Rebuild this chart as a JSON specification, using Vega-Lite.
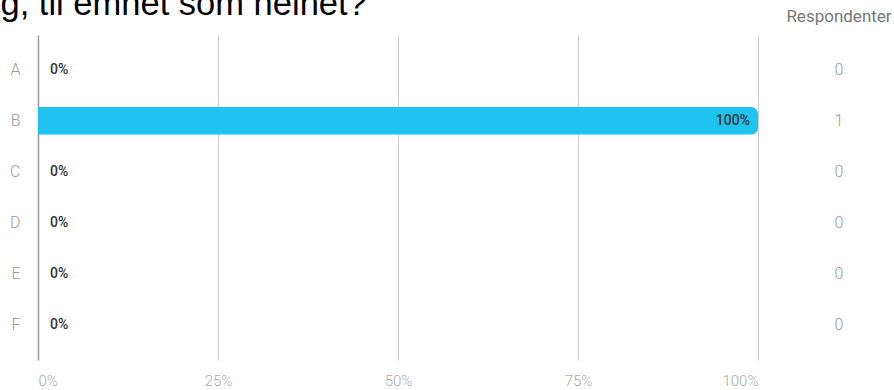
{
  "$schema": "https://vega.github.io/schema/vega-lite/v6.json",
  "padding": {"left": 0, "top": -14, "right": 0, "bottom": 0},
  "background": "white",
  "config": {"view": {"stroke": null}, "font": "Roboto", "concat": {"spacing": 28}},
  "title": {"text": "g, til emnet som helhet?", "anchor": "start", "font": "Liberation Sans", "fontSize": 34.5, "fontWeight": "normal", "color": "#000", "offset": -14, "dx": -9},
  "data": {"values": [
    {"svar": "A", "andel": 0, "antall": 0},
    {"svar": "B", "andel": 1, "antall": 1},
    {"svar": "C", "andel": 0, "antall": 0},
    {"svar": "D", "andel": 0, "antall": 0},
    {"svar": "E", "andel": 0, "antall": 0},
    {"svar": "F", "andel": 0, "antall": 0}
  ]},
  "hconcat": [
    {
      "width": 720,
      "height": 325,
      "encoding": {
        "y": {"field": "svar", "type": "nominal", "sort": ["A","B","C","D","E","F"],
              "scale": {"type": "band", "paddingInner": 0.455, "paddingOuter": 0.41},
              "axis": {"title": null, "domain": false, "ticks": false, "labelPadding": 18, "labelColor": "#999", "labelFontSize": 16, "labelFontWeight": 300, "labelFont": "Roboto"}}
      },
      "layer": [
        {
          "mark": {"type": "bar", "color": "#1EC3F0", "cornerRadiusEnd": 7},
          "encoding": {
            "x": {"field": "andel", "type": "quantitative", "scale": {"domain": [0, 1]},
                  "axis": {"title": null, "values": [0, 0.25, 0.5, 0.75, 1], "format": ".0%", "domain": false, "ticks": false,
                           "labelColor": "#aaa", "labelFontSize": 15, "labelFontWeight": 300, "labelPadding": 13, "labelFlush": true,
                           "gridColor": {"condition": {"test": "datum.value === 0", "value": "#999"}, "value": "#ccc"},
                           "gridWidth": {"condition": {"test": "datum.value === 0", "value": 1.5}, "value": 1}}}
          }
        },
        {
          "transform": [{"filter": "datum.andel === 0"}],
          "mark": {"type": "text", "align": "left", "dx": 12, "fontSize": 14, "fontWeight": 500, "color": "#333"},
          "encoding": {
            "x": {"field": "andel", "type": "quantitative"},
            "text": {"field": "andel", "type": "quantitative", "format": ".0%"}
          }
        },
        {
          "transform": [{"filter": "datum.andel > 0"}],
          "mark": {"type": "text", "align": "right", "dx": -8, "fontSize": 14, "fontWeight": 500, "color": "#333"},
          "encoding": {
            "x": {"field": "andel", "type": "quantitative"},
            "text": {"field": "andel", "type": "quantitative", "format": ".0%"}
          }
        }
      ]
    },
    {
      "width": 60,
      "height": 325,
      "title": {"text": "Respondenter", "fontSize": 17, "fontWeight": "normal", "color": "#777", "font": "Roboto", "offset": 9},
      "mark": {"type": "text", "fontSize": 16, "fontWeight": 300, "color": "#999"},
      "encoding": {
        "y": {"field": "svar", "type": "nominal", "sort": ["A","B","C","D","E","F"],
              "scale": {"type": "band", "paddingInner": 0.455, "paddingOuter": 0.41}, "axis": null},
        "text": {"field": "antall", "type": "quantitative"}
      }
    }
  ]
}
